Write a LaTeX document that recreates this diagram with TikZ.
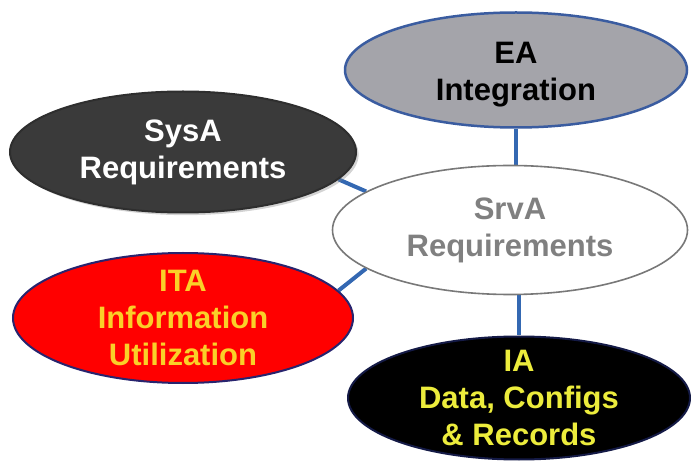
\documentclass[tikz,border=0pt]{standalone}
\usepackage{fontspec}
\setmainfont{Liberation Sans}
\usetikzlibrary{shapes.geometric,backgrounds,shadows}

\definecolor{linkblue}{RGB}{52,104,178}
\definecolor{eafill}{RGB}{164,164,170}
\definecolor{eaedge}{RGB}{58,92,160}
\definecolor{sysfill}{RGB}{58,58,58}
\definecolor{srvedge}{RGB}{120,120,120}
\definecolor{srvtext}{RGB}{128,128,128}
\definecolor{itaedge}{RGB}{40,36,110}
\definecolor{itatext}{RGB}{250,208,40}
\definecolor{iaedge}{RGB}{20,26,70}
\definecolor{iatext}{RGB}{236,236,60}

\tikzset{
  blob/.style={ellipse, inner sep=0pt, line width=2pt},
  caption/.style={align=center, font=\bfseries\fontsize{31}{37}\selectfont},
  link/.style={draw=linkblue, line width=4pt}
}

\begin{document}
\begin{tikzpicture}[x=1pt, y=-1pt]
  \useasboundingbox (0,0) rectangle (691,462);

  % ellipses
  \node[blob, draw=eaedge, fill=eafill, line width=2.5pt,
        minimum width=342pt, minimum height=115pt] (ea) at (516,70) {};
  \node[blob, draw=sysfill!80!black, fill=sysfill, drop shadow={opacity=0.35},
        minimum width=346pt, minimum height=121pt] (sysa) at (183,152) {};
  \node[blob, draw=srvedge, fill=white, line width=1.6pt,
        minimum width=355pt, minimum height=129pt] (srva) at (510,230) {};
  \node[blob, draw=itaedge, fill=red,
        minimum width=340pt, minimum height=130pt] (ita) at (183,318) {};
  \node[blob, draw=iaedge, fill=black,
        minimum width=342pt, minimum height=123pt] (ia) at (519,398) {};

  % captions
  \node[caption, text=black] (eat) at ([yshift=-5pt]ea.center) {EA\\Integration};
  \node[caption, text=white] (sysat) at (sysa.center) {SysA\\Requirements};
  \node[caption, text=srvtext] (srvat) at (srva.center) {SrvA\\Requirements};
  \node[caption, text=itatext] (itat) at (ita.center) {ITA\\Information\\Utilization};
  \node[caption, text=iatext] (iat) at (ia.center) {IA\\Data, Configs\\\& Records};

  % connectors behind the ellipses
  \begin{pgfonlayer}{background}
    \draw[link] (ea.south) -- (ea.south |- srva.north);
    \draw[link] (sysa.-10) -- (srva.165);
    \draw[link] (ita.10) -- (srva.195);
    \draw[link] (ia.north) -- (ia.north |- srva.south);
  \end{pgfonlayer}
\end{tikzpicture}
\end{document}
